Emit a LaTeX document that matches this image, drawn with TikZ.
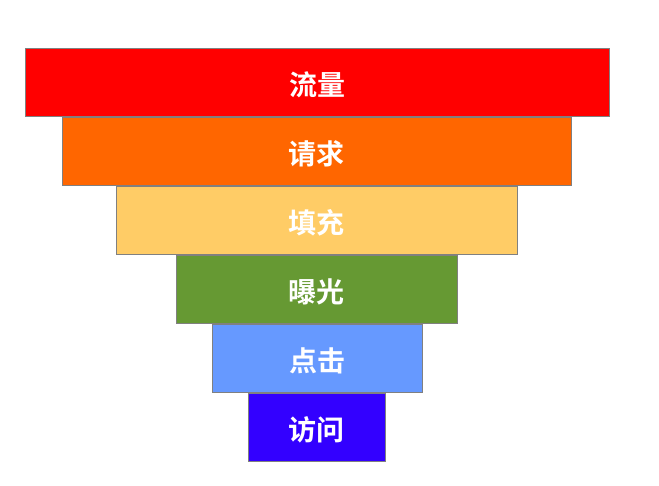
\documentclass[tikz,border=0pt]{standalone}
\usepackage{fontspec}
\newfontfamily\cjk{Noto Sans CJK SC}[BoldFont={* Bold}]
\definecolor{c1}{HTML}{FF0000}
\definecolor{c2}{HTML}{FF6600}
\definecolor{c3}{HTML}{FFCC66}
\definecolor{c4}{HTML}{669933}
\definecolor{c5}{HTML}{6699FF}
\definecolor{c6}{HTML}{3300FF}
\tikzset{
  bar/.style={draw=gray, line width=1pt, text=white, font=\cjk\bfseries\fontsize{28}{28}\selectfont, inner sep=0pt, text depth=0pt, text height=26pt}
}
\begin{document}
\begin{tikzpicture}[x=1pt,y=-1pt]
\useasboundingbox (0,0) rectangle (659,485);
\node[bar, fill=c1, minimum width=584pt, minimum height=68pt] (n1) at (317,82) {流量};
\node[bar, fill=c2, minimum width=509pt, minimum height=68pt] (n2) at (316.5,151) {请求};
\node[bar, fill=c3, minimum width=401pt, minimum height=68pt] (n3) at (316.5,220) {填充};
\node[bar, fill=c4, minimum width=281pt, minimum height=68pt] (n4) at (316.5,289) {曝光};
\node[bar, fill=c5, minimum width=210pt, minimum height=68pt] (n5) at (317,358) {点击};
\node[bar, fill=c6, minimum width=137pt, minimum height=68pt] (n6) at (316.5,427) {访问};
\end{tikzpicture}
\end{document}
